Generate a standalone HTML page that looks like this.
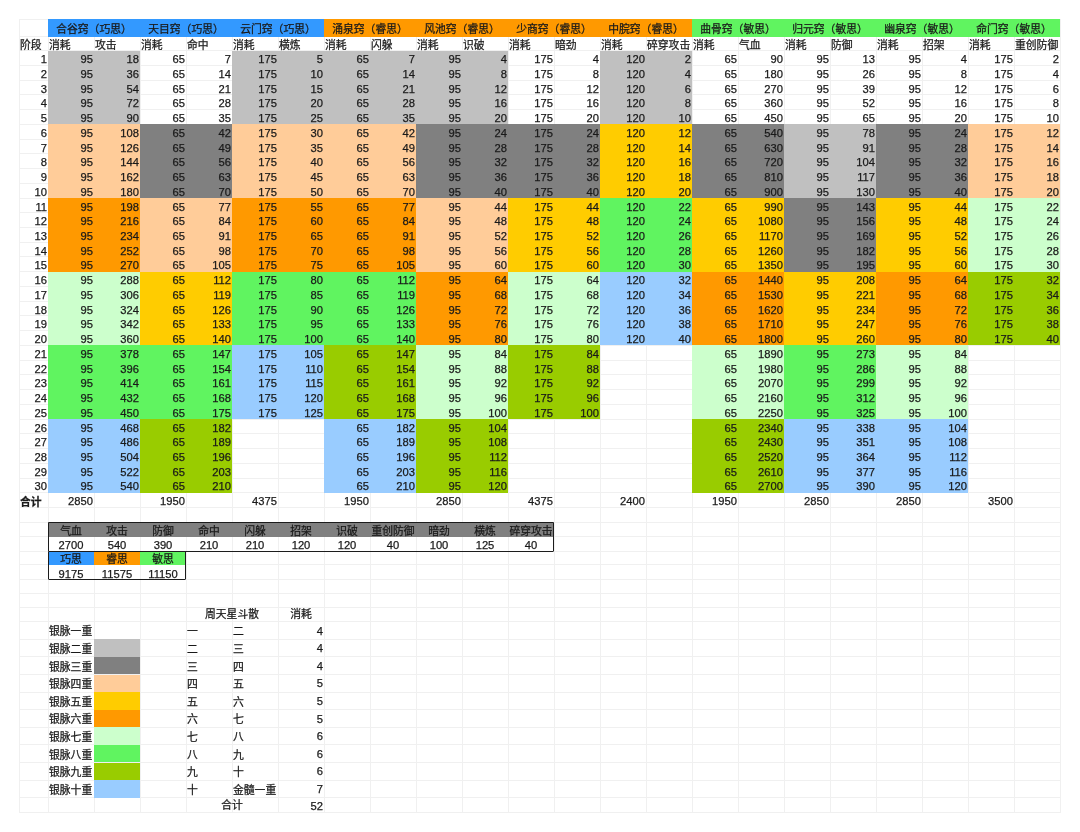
<!DOCTYPE html>
<html lang="zh-CN"><head><meta charset="utf-8"><title>银脉</title>
<style>
html,body{margin:0;padding:0;background:#fff;}
body{width:1080px;height:832px;position:relative;overflow:hidden;font-family:"Liberation Sans","Noto Sans CJK SC",sans-serif;font-size:10.8px;color:#1a1a1a;-webkit-text-stroke:0.25px #1a1a1a;}
div{position:absolute;box-sizing:border-box;white-space:nowrap;display:flex;align-items:center;line-height:1;}
.g{background:#f0f0f0;}
.r{justify-content:flex-end;padding-right:1px;font-size:11.2px;padding-top:3.4px;}
.n{font-size:11.2px;}
.l{justify-content:flex-start;padding-left:1px;padding-top:3.6px;}
.m{padding-top:2.5px;}
.m2{padding-top:1.4px;}
.hd{padding-top:2.4px;}
.c{justify-content:center;}
.b{font-weight:bold;}
.t4{letter-spacing:0px;}
.bd{border:1.5px solid #1c1c1c;border-radius:1px;}
</style></head><body>
<div class="g" style="left:19px;top:18.50px;width:1041px;height:1px"></div>
<div class="g" style="left:19px;top:36.30px;width:1041px;height:1px"></div>
<div class="g" style="left:19px;top:50.20px;width:1041px;height:1px"></div>
<div class="g" style="left:19px;top:64.94px;width:1041px;height:1px"></div>
<div class="g" style="left:19px;top:79.67px;width:1041px;height:1px"></div>
<div class="g" style="left:19px;top:94.41px;width:1041px;height:1px"></div>
<div class="g" style="left:19px;top:109.14px;width:1041px;height:1px"></div>
<div class="g" style="left:19px;top:123.88px;width:1041px;height:1px"></div>
<div class="g" style="left:19px;top:138.61px;width:1041px;height:1px"></div>
<div class="g" style="left:19px;top:153.34px;width:1041px;height:1px"></div>
<div class="g" style="left:19px;top:168.08px;width:1041px;height:1px"></div>
<div class="g" style="left:19px;top:182.81px;width:1041px;height:1px"></div>
<div class="g" style="left:19px;top:197.55px;width:1041px;height:1px"></div>
<div class="g" style="left:19px;top:212.28px;width:1041px;height:1px"></div>
<div class="g" style="left:19px;top:227.02px;width:1041px;height:1px"></div>
<div class="g" style="left:19px;top:241.75px;width:1041px;height:1px"></div>
<div class="g" style="left:19px;top:256.49px;width:1041px;height:1px"></div>
<div class="g" style="left:19px;top:271.22px;width:1041px;height:1px"></div>
<div class="g" style="left:19px;top:285.96px;width:1041px;height:1px"></div>
<div class="g" style="left:19px;top:300.69px;width:1041px;height:1px"></div>
<div class="g" style="left:19px;top:315.43px;width:1041px;height:1px"></div>
<div class="g" style="left:19px;top:330.16px;width:1041px;height:1px"></div>
<div class="g" style="left:19px;top:344.90px;width:1041px;height:1px"></div>
<div class="g" style="left:19px;top:359.63px;width:1041px;height:1px"></div>
<div class="g" style="left:19px;top:374.37px;width:1041px;height:1px"></div>
<div class="g" style="left:19px;top:389.10px;width:1041px;height:1px"></div>
<div class="g" style="left:19px;top:403.84px;width:1041px;height:1px"></div>
<div class="g" style="left:19px;top:418.57px;width:1041px;height:1px"></div>
<div class="g" style="left:19px;top:433.31px;width:1041px;height:1px"></div>
<div class="g" style="left:19px;top:448.04px;width:1041px;height:1px"></div>
<div class="g" style="left:19px;top:462.78px;width:1041px;height:1px"></div>
<div class="g" style="left:19px;top:477.51px;width:1041px;height:1px"></div>
<div class="g" style="left:19px;top:492.25px;width:1041px;height:1px"></div>
<div class="g" style="left:19px;top:506.98px;width:1041px;height:1px"></div>
<div class="g" style="left:19px;top:521.72px;width:1041px;height:1px"></div>
<div class="g" style="left:19px;top:536.10px;width:1041px;height:1px"></div>
<div class="g" style="left:19px;top:551.10px;width:1041px;height:1px"></div>
<div class="g" style="left:19px;top:564.10px;width:1041px;height:1px"></div>
<div class="g" style="left:19px;top:579.10px;width:1041px;height:1px"></div>
<div class="g" style="left:19px;top:592.80px;width:1041px;height:1px"></div>
<div class="g" style="left:19px;top:606.50px;width:1041px;height:1px"></div>
<div class="g" style="left:19px;top:621.20px;width:1041px;height:1px"></div>
<div class="g" style="left:19px;top:638.80px;width:1041px;height:1px"></div>
<div class="g" style="left:19px;top:656.40px;width:1041px;height:1px"></div>
<div class="g" style="left:19px;top:674.00px;width:1041px;height:1px"></div>
<div class="g" style="left:19px;top:691.60px;width:1041px;height:1px"></div>
<div class="g" style="left:19px;top:709.20px;width:1041px;height:1px"></div>
<div class="g" style="left:19px;top:726.80px;width:1041px;height:1px"></div>
<div class="g" style="left:19px;top:744.40px;width:1041px;height:1px"></div>
<div class="g" style="left:19px;top:762.00px;width:1041px;height:1px"></div>
<div class="g" style="left:19px;top:779.60px;width:1041px;height:1px"></div>
<div class="g" style="left:19px;top:797.20px;width:1041px;height:1px"></div>
<div class="g" style="left:19px;top:812.20px;width:1041px;height:1px"></div>
<div class="g" style="left:47.50px;top:19px;width:1px;height:793.70px"></div>
<div class="g" style="left:93.50px;top:19px;width:1px;height:793.70px"></div>
<div class="g" style="left:139.50px;top:19px;width:1px;height:793.70px"></div>
<div class="g" style="left:185.50px;top:19px;width:1px;height:793.70px"></div>
<div class="g" style="left:231.50px;top:19px;width:1px;height:793.70px"></div>
<div class="g" style="left:277.50px;top:19px;width:1px;height:793.70px"></div>
<div class="g" style="left:323.50px;top:19px;width:1px;height:793.70px"></div>
<div class="g" style="left:369.50px;top:19px;width:1px;height:793.70px"></div>
<div class="g" style="left:415.50px;top:19px;width:1px;height:793.70px"></div>
<div class="g" style="left:461.50px;top:19px;width:1px;height:793.70px"></div>
<div class="g" style="left:507.50px;top:19px;width:1px;height:793.70px"></div>
<div class="g" style="left:553.50px;top:19px;width:1px;height:793.70px"></div>
<div class="g" style="left:599.50px;top:19px;width:1px;height:793.70px"></div>
<div class="g" style="left:645.50px;top:19px;width:1px;height:793.70px"></div>
<div class="g" style="left:691.50px;top:19px;width:1px;height:793.70px"></div>
<div class="g" style="left:737.50px;top:19px;width:1px;height:793.70px"></div>
<div class="g" style="left:783.50px;top:19px;width:1px;height:793.70px"></div>
<div class="g" style="left:829.50px;top:19px;width:1px;height:793.70px"></div>
<div class="g" style="left:875.50px;top:19px;width:1px;height:793.70px"></div>
<div class="g" style="left:921.50px;top:19px;width:1px;height:793.70px"></div>
<div class="g" style="left:967.50px;top:19px;width:1px;height:793.70px"></div>
<div class="g" style="left:1013.50px;top:19px;width:1px;height:793.70px"></div>
<div class="g" style="left:1059.50px;top:19px;width:1px;height:793.70px"></div>
<div class="g" style="left:18.50px;top:19px;width:1px;height:793.70px"></div>
<div class="c hd" style="left:48.00px;top:19.00px;width:92.00px;height:17.80px;background:#3399ff;">合谷窍（巧思）</div>
<div class="l" style="left:48.00px;top:36.80px;width:46.00px;height:13.90px;">消耗</div>
<div class="l" style="left:94.00px;top:36.80px;width:46.00px;height:13.90px;">攻击</div>
<div style="left:48.00px;top:50.70px;width:92.00px;height:73.67px;background:#c0c0c0;"></div>
<div style="left:48.00px;top:124.38px;width:92.00px;height:73.67px;background:#ffcc99;"></div>
<div style="left:48.00px;top:198.05px;width:92.00px;height:73.67px;background:#ff9900;"></div>
<div style="left:48.00px;top:271.72px;width:92.00px;height:73.67px;background:#ccffcc;"></div>
<div style="left:48.00px;top:345.40px;width:92.00px;height:73.67px;background:#60f460;"></div>
<div style="left:48.00px;top:419.07px;width:92.00px;height:73.67px;background:#99ccff;"></div>
<div class="r" style="left:48.00px;top:50.70px;width:46.00px;height:14.73px;">95</div>
<div class="r" style="left:94.00px;top:50.70px;width:46.00px;height:14.73px;">18</div>
<div class="r" style="left:48.00px;top:65.44px;width:46.00px;height:14.73px;">95</div>
<div class="r" style="left:94.00px;top:65.44px;width:46.00px;height:14.73px;">36</div>
<div class="r" style="left:48.00px;top:80.17px;width:46.00px;height:14.73px;">95</div>
<div class="r" style="left:94.00px;top:80.17px;width:46.00px;height:14.73px;">54</div>
<div class="r" style="left:48.00px;top:94.91px;width:46.00px;height:14.73px;">95</div>
<div class="r" style="left:94.00px;top:94.91px;width:46.00px;height:14.73px;">72</div>
<div class="r" style="left:48.00px;top:109.64px;width:46.00px;height:14.73px;">95</div>
<div class="r" style="left:94.00px;top:109.64px;width:46.00px;height:14.73px;">90</div>
<div class="r" style="left:48.00px;top:124.38px;width:46.00px;height:14.73px;">95</div>
<div class="r" style="left:94.00px;top:124.38px;width:46.00px;height:14.73px;">108</div>
<div class="r" style="left:48.00px;top:139.11px;width:46.00px;height:14.73px;">95</div>
<div class="r" style="left:94.00px;top:139.11px;width:46.00px;height:14.73px;">126</div>
<div class="r" style="left:48.00px;top:153.84px;width:46.00px;height:14.73px;">95</div>
<div class="r" style="left:94.00px;top:153.84px;width:46.00px;height:14.73px;">144</div>
<div class="r" style="left:48.00px;top:168.58px;width:46.00px;height:14.73px;">95</div>
<div class="r" style="left:94.00px;top:168.58px;width:46.00px;height:14.73px;">162</div>
<div class="r" style="left:48.00px;top:183.31px;width:46.00px;height:14.73px;">95</div>
<div class="r" style="left:94.00px;top:183.31px;width:46.00px;height:14.73px;">180</div>
<div class="r" style="left:48.00px;top:198.05px;width:46.00px;height:14.73px;">95</div>
<div class="r" style="left:94.00px;top:198.05px;width:46.00px;height:14.73px;">198</div>
<div class="r" style="left:48.00px;top:212.78px;width:46.00px;height:14.73px;">95</div>
<div class="r" style="left:94.00px;top:212.78px;width:46.00px;height:14.73px;">216</div>
<div class="r" style="left:48.00px;top:227.52px;width:46.00px;height:14.73px;">95</div>
<div class="r" style="left:94.00px;top:227.52px;width:46.00px;height:14.73px;">234</div>
<div class="r" style="left:48.00px;top:242.25px;width:46.00px;height:14.73px;">95</div>
<div class="r" style="left:94.00px;top:242.25px;width:46.00px;height:14.73px;">252</div>
<div class="r" style="left:48.00px;top:256.99px;width:46.00px;height:14.73px;">95</div>
<div class="r" style="left:94.00px;top:256.99px;width:46.00px;height:14.73px;">270</div>
<div class="r" style="left:48.00px;top:271.72px;width:46.00px;height:14.73px;">95</div>
<div class="r" style="left:94.00px;top:271.72px;width:46.00px;height:14.73px;">288</div>
<div class="r" style="left:48.00px;top:286.46px;width:46.00px;height:14.73px;">95</div>
<div class="r" style="left:94.00px;top:286.46px;width:46.00px;height:14.73px;">306</div>
<div class="r" style="left:48.00px;top:301.19px;width:46.00px;height:14.73px;">95</div>
<div class="r" style="left:94.00px;top:301.19px;width:46.00px;height:14.73px;">324</div>
<div class="r" style="left:48.00px;top:315.93px;width:46.00px;height:14.73px;">95</div>
<div class="r" style="left:94.00px;top:315.93px;width:46.00px;height:14.73px;">342</div>
<div class="r" style="left:48.00px;top:330.66px;width:46.00px;height:14.73px;">95</div>
<div class="r" style="left:94.00px;top:330.66px;width:46.00px;height:14.73px;">360</div>
<div class="r" style="left:48.00px;top:345.40px;width:46.00px;height:14.73px;">95</div>
<div class="r" style="left:94.00px;top:345.40px;width:46.00px;height:14.73px;">378</div>
<div class="r" style="left:48.00px;top:360.13px;width:46.00px;height:14.73px;">95</div>
<div class="r" style="left:94.00px;top:360.13px;width:46.00px;height:14.73px;">396</div>
<div class="r" style="left:48.00px;top:374.87px;width:46.00px;height:14.73px;">95</div>
<div class="r" style="left:94.00px;top:374.87px;width:46.00px;height:14.73px;">414</div>
<div class="r" style="left:48.00px;top:389.60px;width:46.00px;height:14.73px;">95</div>
<div class="r" style="left:94.00px;top:389.60px;width:46.00px;height:14.73px;">432</div>
<div class="r" style="left:48.00px;top:404.34px;width:46.00px;height:14.73px;">95</div>
<div class="r" style="left:94.00px;top:404.34px;width:46.00px;height:14.73px;">450</div>
<div class="r" style="left:48.00px;top:419.07px;width:46.00px;height:14.73px;">95</div>
<div class="r" style="left:94.00px;top:419.07px;width:46.00px;height:14.73px;">468</div>
<div class="r" style="left:48.00px;top:433.81px;width:46.00px;height:14.73px;">95</div>
<div class="r" style="left:94.00px;top:433.81px;width:46.00px;height:14.73px;">486</div>
<div class="r" style="left:48.00px;top:448.54px;width:46.00px;height:14.73px;">95</div>
<div class="r" style="left:94.00px;top:448.54px;width:46.00px;height:14.73px;">504</div>
<div class="r" style="left:48.00px;top:463.28px;width:46.00px;height:14.73px;">95</div>
<div class="r" style="left:94.00px;top:463.28px;width:46.00px;height:14.73px;">522</div>
<div class="r" style="left:48.00px;top:478.01px;width:46.00px;height:14.73px;">95</div>
<div class="r" style="left:94.00px;top:478.01px;width:46.00px;height:14.73px;">540</div>
<div class="r" style="left:48.00px;top:492.75px;width:46.00px;height:14.73px;">2850</div>
<div class="c hd" style="left:140.00px;top:19.00px;width:92.00px;height:17.80px;background:#3399ff;">天目窍（巧思）</div>
<div class="l" style="left:140.00px;top:36.80px;width:46.00px;height:13.90px;">消耗</div>
<div class="l" style="left:186.00px;top:36.80px;width:46.00px;height:13.90px;">命中</div>
<div style="left:140.00px;top:124.38px;width:92.00px;height:73.67px;background:#808080;"></div>
<div style="left:140.00px;top:198.05px;width:92.00px;height:73.67px;background:#ffcc99;"></div>
<div style="left:140.00px;top:271.72px;width:92.00px;height:73.67px;background:#ffcc00;"></div>
<div style="left:140.00px;top:345.40px;width:92.00px;height:73.67px;background:#60f460;"></div>
<div style="left:140.00px;top:419.07px;width:92.00px;height:73.67px;background:#99cc00;"></div>
<div class="r" style="left:140.00px;top:50.70px;width:46.00px;height:14.73px;">65</div>
<div class="r" style="left:186.00px;top:50.70px;width:46.00px;height:14.73px;">7</div>
<div class="r" style="left:140.00px;top:65.44px;width:46.00px;height:14.73px;">65</div>
<div class="r" style="left:186.00px;top:65.44px;width:46.00px;height:14.73px;">14</div>
<div class="r" style="left:140.00px;top:80.17px;width:46.00px;height:14.73px;">65</div>
<div class="r" style="left:186.00px;top:80.17px;width:46.00px;height:14.73px;">21</div>
<div class="r" style="left:140.00px;top:94.91px;width:46.00px;height:14.73px;">65</div>
<div class="r" style="left:186.00px;top:94.91px;width:46.00px;height:14.73px;">28</div>
<div class="r" style="left:140.00px;top:109.64px;width:46.00px;height:14.73px;">65</div>
<div class="r" style="left:186.00px;top:109.64px;width:46.00px;height:14.73px;">35</div>
<div class="r" style="left:140.00px;top:124.38px;width:46.00px;height:14.73px;">65</div>
<div class="r" style="left:186.00px;top:124.38px;width:46.00px;height:14.73px;">42</div>
<div class="r" style="left:140.00px;top:139.11px;width:46.00px;height:14.73px;">65</div>
<div class="r" style="left:186.00px;top:139.11px;width:46.00px;height:14.73px;">49</div>
<div class="r" style="left:140.00px;top:153.84px;width:46.00px;height:14.73px;">65</div>
<div class="r" style="left:186.00px;top:153.84px;width:46.00px;height:14.73px;">56</div>
<div class="r" style="left:140.00px;top:168.58px;width:46.00px;height:14.73px;">65</div>
<div class="r" style="left:186.00px;top:168.58px;width:46.00px;height:14.73px;">63</div>
<div class="r" style="left:140.00px;top:183.31px;width:46.00px;height:14.73px;">65</div>
<div class="r" style="left:186.00px;top:183.31px;width:46.00px;height:14.73px;">70</div>
<div class="r" style="left:140.00px;top:198.05px;width:46.00px;height:14.73px;">65</div>
<div class="r" style="left:186.00px;top:198.05px;width:46.00px;height:14.73px;">77</div>
<div class="r" style="left:140.00px;top:212.78px;width:46.00px;height:14.73px;">65</div>
<div class="r" style="left:186.00px;top:212.78px;width:46.00px;height:14.73px;">84</div>
<div class="r" style="left:140.00px;top:227.52px;width:46.00px;height:14.73px;">65</div>
<div class="r" style="left:186.00px;top:227.52px;width:46.00px;height:14.73px;">91</div>
<div class="r" style="left:140.00px;top:242.25px;width:46.00px;height:14.73px;">65</div>
<div class="r" style="left:186.00px;top:242.25px;width:46.00px;height:14.73px;">98</div>
<div class="r" style="left:140.00px;top:256.99px;width:46.00px;height:14.73px;">65</div>
<div class="r" style="left:186.00px;top:256.99px;width:46.00px;height:14.73px;">105</div>
<div class="r" style="left:140.00px;top:271.72px;width:46.00px;height:14.73px;">65</div>
<div class="r" style="left:186.00px;top:271.72px;width:46.00px;height:14.73px;">112</div>
<div class="r" style="left:140.00px;top:286.46px;width:46.00px;height:14.73px;">65</div>
<div class="r" style="left:186.00px;top:286.46px;width:46.00px;height:14.73px;">119</div>
<div class="r" style="left:140.00px;top:301.19px;width:46.00px;height:14.73px;">65</div>
<div class="r" style="left:186.00px;top:301.19px;width:46.00px;height:14.73px;">126</div>
<div class="r" style="left:140.00px;top:315.93px;width:46.00px;height:14.73px;">65</div>
<div class="r" style="left:186.00px;top:315.93px;width:46.00px;height:14.73px;">133</div>
<div class="r" style="left:140.00px;top:330.66px;width:46.00px;height:14.73px;">65</div>
<div class="r" style="left:186.00px;top:330.66px;width:46.00px;height:14.73px;">140</div>
<div class="r" style="left:140.00px;top:345.40px;width:46.00px;height:14.73px;">65</div>
<div class="r" style="left:186.00px;top:345.40px;width:46.00px;height:14.73px;">147</div>
<div class="r" style="left:140.00px;top:360.13px;width:46.00px;height:14.73px;">65</div>
<div class="r" style="left:186.00px;top:360.13px;width:46.00px;height:14.73px;">154</div>
<div class="r" style="left:140.00px;top:374.87px;width:46.00px;height:14.73px;">65</div>
<div class="r" style="left:186.00px;top:374.87px;width:46.00px;height:14.73px;">161</div>
<div class="r" style="left:140.00px;top:389.60px;width:46.00px;height:14.73px;">65</div>
<div class="r" style="left:186.00px;top:389.60px;width:46.00px;height:14.73px;">168</div>
<div class="r" style="left:140.00px;top:404.34px;width:46.00px;height:14.73px;">65</div>
<div class="r" style="left:186.00px;top:404.34px;width:46.00px;height:14.73px;">175</div>
<div class="r" style="left:140.00px;top:419.07px;width:46.00px;height:14.73px;">65</div>
<div class="r" style="left:186.00px;top:419.07px;width:46.00px;height:14.73px;">182</div>
<div class="r" style="left:140.00px;top:433.81px;width:46.00px;height:14.73px;">65</div>
<div class="r" style="left:186.00px;top:433.81px;width:46.00px;height:14.73px;">189</div>
<div class="r" style="left:140.00px;top:448.54px;width:46.00px;height:14.73px;">65</div>
<div class="r" style="left:186.00px;top:448.54px;width:46.00px;height:14.73px;">196</div>
<div class="r" style="left:140.00px;top:463.28px;width:46.00px;height:14.73px;">65</div>
<div class="r" style="left:186.00px;top:463.28px;width:46.00px;height:14.73px;">203</div>
<div class="r" style="left:140.00px;top:478.01px;width:46.00px;height:14.73px;">65</div>
<div class="r" style="left:186.00px;top:478.01px;width:46.00px;height:14.73px;">210</div>
<div class="r" style="left:140.00px;top:492.75px;width:46.00px;height:14.73px;">1950</div>
<div class="c hd" style="left:232.00px;top:19.00px;width:92.00px;height:17.80px;background:#3399ff;">云门窍（巧思）</div>
<div class="l" style="left:232.00px;top:36.80px;width:46.00px;height:13.90px;">消耗</div>
<div class="l" style="left:278.00px;top:36.80px;width:46.00px;height:13.90px;">横炼</div>
<div style="left:232.00px;top:50.70px;width:92.00px;height:73.67px;background:#c0c0c0;"></div>
<div style="left:232.00px;top:124.38px;width:92.00px;height:73.67px;background:#ffcc99;"></div>
<div style="left:232.00px;top:198.05px;width:92.00px;height:73.67px;background:#ff9900;"></div>
<div style="left:232.00px;top:271.72px;width:92.00px;height:73.67px;background:#60f460;"></div>
<div style="left:232.00px;top:345.40px;width:92.00px;height:73.67px;background:#99ccff;"></div>
<div class="r" style="left:232.00px;top:50.70px;width:46.00px;height:14.73px;">175</div>
<div class="r" style="left:278.00px;top:50.70px;width:46.00px;height:14.73px;">5</div>
<div class="r" style="left:232.00px;top:65.44px;width:46.00px;height:14.73px;">175</div>
<div class="r" style="left:278.00px;top:65.44px;width:46.00px;height:14.73px;">10</div>
<div class="r" style="left:232.00px;top:80.17px;width:46.00px;height:14.73px;">175</div>
<div class="r" style="left:278.00px;top:80.17px;width:46.00px;height:14.73px;">15</div>
<div class="r" style="left:232.00px;top:94.91px;width:46.00px;height:14.73px;">175</div>
<div class="r" style="left:278.00px;top:94.91px;width:46.00px;height:14.73px;">20</div>
<div class="r" style="left:232.00px;top:109.64px;width:46.00px;height:14.73px;">175</div>
<div class="r" style="left:278.00px;top:109.64px;width:46.00px;height:14.73px;">25</div>
<div class="r" style="left:232.00px;top:124.38px;width:46.00px;height:14.73px;">175</div>
<div class="r" style="left:278.00px;top:124.38px;width:46.00px;height:14.73px;">30</div>
<div class="r" style="left:232.00px;top:139.11px;width:46.00px;height:14.73px;">175</div>
<div class="r" style="left:278.00px;top:139.11px;width:46.00px;height:14.73px;">35</div>
<div class="r" style="left:232.00px;top:153.84px;width:46.00px;height:14.73px;">175</div>
<div class="r" style="left:278.00px;top:153.84px;width:46.00px;height:14.73px;">40</div>
<div class="r" style="left:232.00px;top:168.58px;width:46.00px;height:14.73px;">175</div>
<div class="r" style="left:278.00px;top:168.58px;width:46.00px;height:14.73px;">45</div>
<div class="r" style="left:232.00px;top:183.31px;width:46.00px;height:14.73px;">175</div>
<div class="r" style="left:278.00px;top:183.31px;width:46.00px;height:14.73px;">50</div>
<div class="r" style="left:232.00px;top:198.05px;width:46.00px;height:14.73px;">175</div>
<div class="r" style="left:278.00px;top:198.05px;width:46.00px;height:14.73px;">55</div>
<div class="r" style="left:232.00px;top:212.78px;width:46.00px;height:14.73px;">175</div>
<div class="r" style="left:278.00px;top:212.78px;width:46.00px;height:14.73px;">60</div>
<div class="r" style="left:232.00px;top:227.52px;width:46.00px;height:14.73px;">175</div>
<div class="r" style="left:278.00px;top:227.52px;width:46.00px;height:14.73px;">65</div>
<div class="r" style="left:232.00px;top:242.25px;width:46.00px;height:14.73px;">175</div>
<div class="r" style="left:278.00px;top:242.25px;width:46.00px;height:14.73px;">70</div>
<div class="r" style="left:232.00px;top:256.99px;width:46.00px;height:14.73px;">175</div>
<div class="r" style="left:278.00px;top:256.99px;width:46.00px;height:14.73px;">75</div>
<div class="r" style="left:232.00px;top:271.72px;width:46.00px;height:14.73px;">175</div>
<div class="r" style="left:278.00px;top:271.72px;width:46.00px;height:14.73px;">80</div>
<div class="r" style="left:232.00px;top:286.46px;width:46.00px;height:14.73px;">175</div>
<div class="r" style="left:278.00px;top:286.46px;width:46.00px;height:14.73px;">85</div>
<div class="r" style="left:232.00px;top:301.19px;width:46.00px;height:14.73px;">175</div>
<div class="r" style="left:278.00px;top:301.19px;width:46.00px;height:14.73px;">90</div>
<div class="r" style="left:232.00px;top:315.93px;width:46.00px;height:14.73px;">175</div>
<div class="r" style="left:278.00px;top:315.93px;width:46.00px;height:14.73px;">95</div>
<div class="r" style="left:232.00px;top:330.66px;width:46.00px;height:14.73px;">175</div>
<div class="r" style="left:278.00px;top:330.66px;width:46.00px;height:14.73px;">100</div>
<div class="r" style="left:232.00px;top:345.40px;width:46.00px;height:14.73px;">175</div>
<div class="r" style="left:278.00px;top:345.40px;width:46.00px;height:14.73px;">105</div>
<div class="r" style="left:232.00px;top:360.13px;width:46.00px;height:14.73px;">175</div>
<div class="r" style="left:278.00px;top:360.13px;width:46.00px;height:14.73px;">110</div>
<div class="r" style="left:232.00px;top:374.87px;width:46.00px;height:14.73px;">175</div>
<div class="r" style="left:278.00px;top:374.87px;width:46.00px;height:14.73px;">115</div>
<div class="r" style="left:232.00px;top:389.60px;width:46.00px;height:14.73px;">175</div>
<div class="r" style="left:278.00px;top:389.60px;width:46.00px;height:14.73px;">120</div>
<div class="r" style="left:232.00px;top:404.34px;width:46.00px;height:14.73px;">175</div>
<div class="r" style="left:278.00px;top:404.34px;width:46.00px;height:14.73px;">125</div>
<div class="r" style="left:232.00px;top:492.75px;width:46.00px;height:14.73px;">4375</div>
<div class="c hd" style="left:324.00px;top:19.00px;width:92.00px;height:17.80px;background:#ff9900;">涌泉窍（睿思）</div>
<div class="l" style="left:324.00px;top:36.80px;width:46.00px;height:13.90px;">消耗</div>
<div class="l" style="left:370.00px;top:36.80px;width:46.00px;height:13.90px;">闪躲</div>
<div style="left:324.00px;top:50.70px;width:92.00px;height:73.67px;background:#c0c0c0;"></div>
<div style="left:324.00px;top:124.38px;width:92.00px;height:73.67px;background:#ffcc99;"></div>
<div style="left:324.00px;top:198.05px;width:92.00px;height:73.67px;background:#ff9900;"></div>
<div style="left:324.00px;top:271.72px;width:92.00px;height:73.67px;background:#60f460;"></div>
<div style="left:324.00px;top:345.40px;width:92.00px;height:73.67px;background:#99cc00;"></div>
<div style="left:324.00px;top:419.07px;width:92.00px;height:73.67px;background:#99ccff;"></div>
<div class="r" style="left:324.00px;top:50.70px;width:46.00px;height:14.73px;">65</div>
<div class="r" style="left:370.00px;top:50.70px;width:46.00px;height:14.73px;">7</div>
<div class="r" style="left:324.00px;top:65.44px;width:46.00px;height:14.73px;">65</div>
<div class="r" style="left:370.00px;top:65.44px;width:46.00px;height:14.73px;">14</div>
<div class="r" style="left:324.00px;top:80.17px;width:46.00px;height:14.73px;">65</div>
<div class="r" style="left:370.00px;top:80.17px;width:46.00px;height:14.73px;">21</div>
<div class="r" style="left:324.00px;top:94.91px;width:46.00px;height:14.73px;">65</div>
<div class="r" style="left:370.00px;top:94.91px;width:46.00px;height:14.73px;">28</div>
<div class="r" style="left:324.00px;top:109.64px;width:46.00px;height:14.73px;">65</div>
<div class="r" style="left:370.00px;top:109.64px;width:46.00px;height:14.73px;">35</div>
<div class="r" style="left:324.00px;top:124.38px;width:46.00px;height:14.73px;">65</div>
<div class="r" style="left:370.00px;top:124.38px;width:46.00px;height:14.73px;">42</div>
<div class="r" style="left:324.00px;top:139.11px;width:46.00px;height:14.73px;">65</div>
<div class="r" style="left:370.00px;top:139.11px;width:46.00px;height:14.73px;">49</div>
<div class="r" style="left:324.00px;top:153.84px;width:46.00px;height:14.73px;">65</div>
<div class="r" style="left:370.00px;top:153.84px;width:46.00px;height:14.73px;">56</div>
<div class="r" style="left:324.00px;top:168.58px;width:46.00px;height:14.73px;">65</div>
<div class="r" style="left:370.00px;top:168.58px;width:46.00px;height:14.73px;">63</div>
<div class="r" style="left:324.00px;top:183.31px;width:46.00px;height:14.73px;">65</div>
<div class="r" style="left:370.00px;top:183.31px;width:46.00px;height:14.73px;">70</div>
<div class="r" style="left:324.00px;top:198.05px;width:46.00px;height:14.73px;">65</div>
<div class="r" style="left:370.00px;top:198.05px;width:46.00px;height:14.73px;">77</div>
<div class="r" style="left:324.00px;top:212.78px;width:46.00px;height:14.73px;">65</div>
<div class="r" style="left:370.00px;top:212.78px;width:46.00px;height:14.73px;">84</div>
<div class="r" style="left:324.00px;top:227.52px;width:46.00px;height:14.73px;">65</div>
<div class="r" style="left:370.00px;top:227.52px;width:46.00px;height:14.73px;">91</div>
<div class="r" style="left:324.00px;top:242.25px;width:46.00px;height:14.73px;">65</div>
<div class="r" style="left:370.00px;top:242.25px;width:46.00px;height:14.73px;">98</div>
<div class="r" style="left:324.00px;top:256.99px;width:46.00px;height:14.73px;">65</div>
<div class="r" style="left:370.00px;top:256.99px;width:46.00px;height:14.73px;">105</div>
<div class="r" style="left:324.00px;top:271.72px;width:46.00px;height:14.73px;">65</div>
<div class="r" style="left:370.00px;top:271.72px;width:46.00px;height:14.73px;">112</div>
<div class="r" style="left:324.00px;top:286.46px;width:46.00px;height:14.73px;">65</div>
<div class="r" style="left:370.00px;top:286.46px;width:46.00px;height:14.73px;">119</div>
<div class="r" style="left:324.00px;top:301.19px;width:46.00px;height:14.73px;">65</div>
<div class="r" style="left:370.00px;top:301.19px;width:46.00px;height:14.73px;">126</div>
<div class="r" style="left:324.00px;top:315.93px;width:46.00px;height:14.73px;">65</div>
<div class="r" style="left:370.00px;top:315.93px;width:46.00px;height:14.73px;">133</div>
<div class="r" style="left:324.00px;top:330.66px;width:46.00px;height:14.73px;">65</div>
<div class="r" style="left:370.00px;top:330.66px;width:46.00px;height:14.73px;">140</div>
<div class="r" style="left:324.00px;top:345.40px;width:46.00px;height:14.73px;">65</div>
<div class="r" style="left:370.00px;top:345.40px;width:46.00px;height:14.73px;">147</div>
<div class="r" style="left:324.00px;top:360.13px;width:46.00px;height:14.73px;">65</div>
<div class="r" style="left:370.00px;top:360.13px;width:46.00px;height:14.73px;">154</div>
<div class="r" style="left:324.00px;top:374.87px;width:46.00px;height:14.73px;">65</div>
<div class="r" style="left:370.00px;top:374.87px;width:46.00px;height:14.73px;">161</div>
<div class="r" style="left:324.00px;top:389.60px;width:46.00px;height:14.73px;">65</div>
<div class="r" style="left:370.00px;top:389.60px;width:46.00px;height:14.73px;">168</div>
<div class="r" style="left:324.00px;top:404.34px;width:46.00px;height:14.73px;">65</div>
<div class="r" style="left:370.00px;top:404.34px;width:46.00px;height:14.73px;">175</div>
<div class="r" style="left:324.00px;top:419.07px;width:46.00px;height:14.73px;">65</div>
<div class="r" style="left:370.00px;top:419.07px;width:46.00px;height:14.73px;">182</div>
<div class="r" style="left:324.00px;top:433.81px;width:46.00px;height:14.73px;">65</div>
<div class="r" style="left:370.00px;top:433.81px;width:46.00px;height:14.73px;">189</div>
<div class="r" style="left:324.00px;top:448.54px;width:46.00px;height:14.73px;">65</div>
<div class="r" style="left:370.00px;top:448.54px;width:46.00px;height:14.73px;">196</div>
<div class="r" style="left:324.00px;top:463.28px;width:46.00px;height:14.73px;">65</div>
<div class="r" style="left:370.00px;top:463.28px;width:46.00px;height:14.73px;">203</div>
<div class="r" style="left:324.00px;top:478.01px;width:46.00px;height:14.73px;">65</div>
<div class="r" style="left:370.00px;top:478.01px;width:46.00px;height:14.73px;">210</div>
<div class="r" style="left:324.00px;top:492.75px;width:46.00px;height:14.73px;">1950</div>
<div class="c hd" style="left:416.00px;top:19.00px;width:92.00px;height:17.80px;background:#ff9900;">风池窍（睿思）</div>
<div class="l" style="left:416.00px;top:36.80px;width:46.00px;height:13.90px;">消耗</div>
<div class="l" style="left:462.00px;top:36.80px;width:46.00px;height:13.90px;">识破</div>
<div style="left:416.00px;top:50.70px;width:92.00px;height:73.67px;background:#c0c0c0;"></div>
<div style="left:416.00px;top:124.38px;width:92.00px;height:73.67px;background:#808080;"></div>
<div style="left:416.00px;top:198.05px;width:92.00px;height:73.67px;background:#ffcc99;"></div>
<div style="left:416.00px;top:271.72px;width:92.00px;height:73.67px;background:#ff9900;"></div>
<div style="left:416.00px;top:345.40px;width:92.00px;height:73.67px;background:#ccffcc;"></div>
<div style="left:416.00px;top:419.07px;width:92.00px;height:73.67px;background:#99cc00;"></div>
<div class="r" style="left:416.00px;top:50.70px;width:46.00px;height:14.73px;">95</div>
<div class="r" style="left:462.00px;top:50.70px;width:46.00px;height:14.73px;">4</div>
<div class="r" style="left:416.00px;top:65.44px;width:46.00px;height:14.73px;">95</div>
<div class="r" style="left:462.00px;top:65.44px;width:46.00px;height:14.73px;">8</div>
<div class="r" style="left:416.00px;top:80.17px;width:46.00px;height:14.73px;">95</div>
<div class="r" style="left:462.00px;top:80.17px;width:46.00px;height:14.73px;">12</div>
<div class="r" style="left:416.00px;top:94.91px;width:46.00px;height:14.73px;">95</div>
<div class="r" style="left:462.00px;top:94.91px;width:46.00px;height:14.73px;">16</div>
<div class="r" style="left:416.00px;top:109.64px;width:46.00px;height:14.73px;">95</div>
<div class="r" style="left:462.00px;top:109.64px;width:46.00px;height:14.73px;">20</div>
<div class="r" style="left:416.00px;top:124.38px;width:46.00px;height:14.73px;">95</div>
<div class="r" style="left:462.00px;top:124.38px;width:46.00px;height:14.73px;">24</div>
<div class="r" style="left:416.00px;top:139.11px;width:46.00px;height:14.73px;">95</div>
<div class="r" style="left:462.00px;top:139.11px;width:46.00px;height:14.73px;">28</div>
<div class="r" style="left:416.00px;top:153.84px;width:46.00px;height:14.73px;">95</div>
<div class="r" style="left:462.00px;top:153.84px;width:46.00px;height:14.73px;">32</div>
<div class="r" style="left:416.00px;top:168.58px;width:46.00px;height:14.73px;">95</div>
<div class="r" style="left:462.00px;top:168.58px;width:46.00px;height:14.73px;">36</div>
<div class="r" style="left:416.00px;top:183.31px;width:46.00px;height:14.73px;">95</div>
<div class="r" style="left:462.00px;top:183.31px;width:46.00px;height:14.73px;">40</div>
<div class="r" style="left:416.00px;top:198.05px;width:46.00px;height:14.73px;">95</div>
<div class="r" style="left:462.00px;top:198.05px;width:46.00px;height:14.73px;">44</div>
<div class="r" style="left:416.00px;top:212.78px;width:46.00px;height:14.73px;">95</div>
<div class="r" style="left:462.00px;top:212.78px;width:46.00px;height:14.73px;">48</div>
<div class="r" style="left:416.00px;top:227.52px;width:46.00px;height:14.73px;">95</div>
<div class="r" style="left:462.00px;top:227.52px;width:46.00px;height:14.73px;">52</div>
<div class="r" style="left:416.00px;top:242.25px;width:46.00px;height:14.73px;">95</div>
<div class="r" style="left:462.00px;top:242.25px;width:46.00px;height:14.73px;">56</div>
<div class="r" style="left:416.00px;top:256.99px;width:46.00px;height:14.73px;">95</div>
<div class="r" style="left:462.00px;top:256.99px;width:46.00px;height:14.73px;">60</div>
<div class="r" style="left:416.00px;top:271.72px;width:46.00px;height:14.73px;">95</div>
<div class="r" style="left:462.00px;top:271.72px;width:46.00px;height:14.73px;">64</div>
<div class="r" style="left:416.00px;top:286.46px;width:46.00px;height:14.73px;">95</div>
<div class="r" style="left:462.00px;top:286.46px;width:46.00px;height:14.73px;">68</div>
<div class="r" style="left:416.00px;top:301.19px;width:46.00px;height:14.73px;">95</div>
<div class="r" style="left:462.00px;top:301.19px;width:46.00px;height:14.73px;">72</div>
<div class="r" style="left:416.00px;top:315.93px;width:46.00px;height:14.73px;">95</div>
<div class="r" style="left:462.00px;top:315.93px;width:46.00px;height:14.73px;">76</div>
<div class="r" style="left:416.00px;top:330.66px;width:46.00px;height:14.73px;">95</div>
<div class="r" style="left:462.00px;top:330.66px;width:46.00px;height:14.73px;">80</div>
<div class="r" style="left:416.00px;top:345.40px;width:46.00px;height:14.73px;">95</div>
<div class="r" style="left:462.00px;top:345.40px;width:46.00px;height:14.73px;">84</div>
<div class="r" style="left:416.00px;top:360.13px;width:46.00px;height:14.73px;">95</div>
<div class="r" style="left:462.00px;top:360.13px;width:46.00px;height:14.73px;">88</div>
<div class="r" style="left:416.00px;top:374.87px;width:46.00px;height:14.73px;">95</div>
<div class="r" style="left:462.00px;top:374.87px;width:46.00px;height:14.73px;">92</div>
<div class="r" style="left:416.00px;top:389.60px;width:46.00px;height:14.73px;">95</div>
<div class="r" style="left:462.00px;top:389.60px;width:46.00px;height:14.73px;">96</div>
<div class="r" style="left:416.00px;top:404.34px;width:46.00px;height:14.73px;">95</div>
<div class="r" style="left:462.00px;top:404.34px;width:46.00px;height:14.73px;">100</div>
<div class="r" style="left:416.00px;top:419.07px;width:46.00px;height:14.73px;">95</div>
<div class="r" style="left:462.00px;top:419.07px;width:46.00px;height:14.73px;">104</div>
<div class="r" style="left:416.00px;top:433.81px;width:46.00px;height:14.73px;">95</div>
<div class="r" style="left:462.00px;top:433.81px;width:46.00px;height:14.73px;">108</div>
<div class="r" style="left:416.00px;top:448.54px;width:46.00px;height:14.73px;">95</div>
<div class="r" style="left:462.00px;top:448.54px;width:46.00px;height:14.73px;">112</div>
<div class="r" style="left:416.00px;top:463.28px;width:46.00px;height:14.73px;">95</div>
<div class="r" style="left:462.00px;top:463.28px;width:46.00px;height:14.73px;">116</div>
<div class="r" style="left:416.00px;top:478.01px;width:46.00px;height:14.73px;">95</div>
<div class="r" style="left:462.00px;top:478.01px;width:46.00px;height:14.73px;">120</div>
<div class="r" style="left:416.00px;top:492.75px;width:46.00px;height:14.73px;">2850</div>
<div class="c hd" style="left:508.00px;top:19.00px;width:92.00px;height:17.80px;background:#ff9900;">少商窍（睿思）</div>
<div class="l" style="left:508.00px;top:36.80px;width:46.00px;height:13.90px;">消耗</div>
<div class="l" style="left:554.00px;top:36.80px;width:46.00px;height:13.90px;">暗劲</div>
<div style="left:508.00px;top:124.38px;width:92.00px;height:73.67px;background:#808080;"></div>
<div style="left:508.00px;top:198.05px;width:92.00px;height:73.67px;background:#ffcc00;"></div>
<div style="left:508.00px;top:271.72px;width:92.00px;height:73.67px;background:#ccffcc;"></div>
<div style="left:508.00px;top:345.40px;width:92.00px;height:73.67px;background:#99cc00;"></div>
<div class="r" style="left:508.00px;top:50.70px;width:46.00px;height:14.73px;">175</div>
<div class="r" style="left:554.00px;top:50.70px;width:46.00px;height:14.73px;">4</div>
<div class="r" style="left:508.00px;top:65.44px;width:46.00px;height:14.73px;">175</div>
<div class="r" style="left:554.00px;top:65.44px;width:46.00px;height:14.73px;">8</div>
<div class="r" style="left:508.00px;top:80.17px;width:46.00px;height:14.73px;">175</div>
<div class="r" style="left:554.00px;top:80.17px;width:46.00px;height:14.73px;">12</div>
<div class="r" style="left:508.00px;top:94.91px;width:46.00px;height:14.73px;">175</div>
<div class="r" style="left:554.00px;top:94.91px;width:46.00px;height:14.73px;">16</div>
<div class="r" style="left:508.00px;top:109.64px;width:46.00px;height:14.73px;">175</div>
<div class="r" style="left:554.00px;top:109.64px;width:46.00px;height:14.73px;">20</div>
<div class="r" style="left:508.00px;top:124.38px;width:46.00px;height:14.73px;">175</div>
<div class="r" style="left:554.00px;top:124.38px;width:46.00px;height:14.73px;">24</div>
<div class="r" style="left:508.00px;top:139.11px;width:46.00px;height:14.73px;">175</div>
<div class="r" style="left:554.00px;top:139.11px;width:46.00px;height:14.73px;">28</div>
<div class="r" style="left:508.00px;top:153.84px;width:46.00px;height:14.73px;">175</div>
<div class="r" style="left:554.00px;top:153.84px;width:46.00px;height:14.73px;">32</div>
<div class="r" style="left:508.00px;top:168.58px;width:46.00px;height:14.73px;">175</div>
<div class="r" style="left:554.00px;top:168.58px;width:46.00px;height:14.73px;">36</div>
<div class="r" style="left:508.00px;top:183.31px;width:46.00px;height:14.73px;">175</div>
<div class="r" style="left:554.00px;top:183.31px;width:46.00px;height:14.73px;">40</div>
<div class="r" style="left:508.00px;top:198.05px;width:46.00px;height:14.73px;">175</div>
<div class="r" style="left:554.00px;top:198.05px;width:46.00px;height:14.73px;">44</div>
<div class="r" style="left:508.00px;top:212.78px;width:46.00px;height:14.73px;">175</div>
<div class="r" style="left:554.00px;top:212.78px;width:46.00px;height:14.73px;">48</div>
<div class="r" style="left:508.00px;top:227.52px;width:46.00px;height:14.73px;">175</div>
<div class="r" style="left:554.00px;top:227.52px;width:46.00px;height:14.73px;">52</div>
<div class="r" style="left:508.00px;top:242.25px;width:46.00px;height:14.73px;">175</div>
<div class="r" style="left:554.00px;top:242.25px;width:46.00px;height:14.73px;">56</div>
<div class="r" style="left:508.00px;top:256.99px;width:46.00px;height:14.73px;">175</div>
<div class="r" style="left:554.00px;top:256.99px;width:46.00px;height:14.73px;">60</div>
<div class="r" style="left:508.00px;top:271.72px;width:46.00px;height:14.73px;">175</div>
<div class="r" style="left:554.00px;top:271.72px;width:46.00px;height:14.73px;">64</div>
<div class="r" style="left:508.00px;top:286.46px;width:46.00px;height:14.73px;">175</div>
<div class="r" style="left:554.00px;top:286.46px;width:46.00px;height:14.73px;">68</div>
<div class="r" style="left:508.00px;top:301.19px;width:46.00px;height:14.73px;">175</div>
<div class="r" style="left:554.00px;top:301.19px;width:46.00px;height:14.73px;">72</div>
<div class="r" style="left:508.00px;top:315.93px;width:46.00px;height:14.73px;">175</div>
<div class="r" style="left:554.00px;top:315.93px;width:46.00px;height:14.73px;">76</div>
<div class="r" style="left:508.00px;top:330.66px;width:46.00px;height:14.73px;">175</div>
<div class="r" style="left:554.00px;top:330.66px;width:46.00px;height:14.73px;">80</div>
<div class="r" style="left:508.00px;top:345.40px;width:46.00px;height:14.73px;">175</div>
<div class="r" style="left:554.00px;top:345.40px;width:46.00px;height:14.73px;">84</div>
<div class="r" style="left:508.00px;top:360.13px;width:46.00px;height:14.73px;">175</div>
<div class="r" style="left:554.00px;top:360.13px;width:46.00px;height:14.73px;">88</div>
<div class="r" style="left:508.00px;top:374.87px;width:46.00px;height:14.73px;">175</div>
<div class="r" style="left:554.00px;top:374.87px;width:46.00px;height:14.73px;">92</div>
<div class="r" style="left:508.00px;top:389.60px;width:46.00px;height:14.73px;">175</div>
<div class="r" style="left:554.00px;top:389.60px;width:46.00px;height:14.73px;">96</div>
<div class="r" style="left:508.00px;top:404.34px;width:46.00px;height:14.73px;">175</div>
<div class="r" style="left:554.00px;top:404.34px;width:46.00px;height:14.73px;">100</div>
<div class="r" style="left:508.00px;top:492.75px;width:46.00px;height:14.73px;">4375</div>
<div class="c hd" style="left:600.00px;top:19.00px;width:92.00px;height:17.80px;background:#ff9900;">中脘窍（睿思）</div>
<div class="l" style="left:600.00px;top:36.80px;width:46.00px;height:13.90px;">消耗</div>
<div class="l t4" style="left:646.00px;top:36.80px;width:46.00px;height:13.90px;">碎穿攻击</div>
<div style="left:600.00px;top:50.70px;width:92.00px;height:73.67px;background:#c0c0c0;"></div>
<div style="left:600.00px;top:124.38px;width:92.00px;height:73.67px;background:#ffcc00;"></div>
<div style="left:600.00px;top:198.05px;width:92.00px;height:73.67px;background:#60f460;"></div>
<div style="left:600.00px;top:271.72px;width:92.00px;height:73.67px;background:#99ccff;"></div>
<div class="r" style="left:600.00px;top:50.70px;width:46.00px;height:14.73px;">120</div>
<div class="r" style="left:646.00px;top:50.70px;width:46.00px;height:14.73px;">2</div>
<div class="r" style="left:600.00px;top:65.44px;width:46.00px;height:14.73px;">120</div>
<div class="r" style="left:646.00px;top:65.44px;width:46.00px;height:14.73px;">4</div>
<div class="r" style="left:600.00px;top:80.17px;width:46.00px;height:14.73px;">120</div>
<div class="r" style="left:646.00px;top:80.17px;width:46.00px;height:14.73px;">6</div>
<div class="r" style="left:600.00px;top:94.91px;width:46.00px;height:14.73px;">120</div>
<div class="r" style="left:646.00px;top:94.91px;width:46.00px;height:14.73px;">8</div>
<div class="r" style="left:600.00px;top:109.64px;width:46.00px;height:14.73px;">120</div>
<div class="r" style="left:646.00px;top:109.64px;width:46.00px;height:14.73px;">10</div>
<div class="r" style="left:600.00px;top:124.38px;width:46.00px;height:14.73px;">120</div>
<div class="r" style="left:646.00px;top:124.38px;width:46.00px;height:14.73px;">12</div>
<div class="r" style="left:600.00px;top:139.11px;width:46.00px;height:14.73px;">120</div>
<div class="r" style="left:646.00px;top:139.11px;width:46.00px;height:14.73px;">14</div>
<div class="r" style="left:600.00px;top:153.84px;width:46.00px;height:14.73px;">120</div>
<div class="r" style="left:646.00px;top:153.84px;width:46.00px;height:14.73px;">16</div>
<div class="r" style="left:600.00px;top:168.58px;width:46.00px;height:14.73px;">120</div>
<div class="r" style="left:646.00px;top:168.58px;width:46.00px;height:14.73px;">18</div>
<div class="r" style="left:600.00px;top:183.31px;width:46.00px;height:14.73px;">120</div>
<div class="r" style="left:646.00px;top:183.31px;width:46.00px;height:14.73px;">20</div>
<div class="r" style="left:600.00px;top:198.05px;width:46.00px;height:14.73px;">120</div>
<div class="r" style="left:646.00px;top:198.05px;width:46.00px;height:14.73px;">22</div>
<div class="r" style="left:600.00px;top:212.78px;width:46.00px;height:14.73px;">120</div>
<div class="r" style="left:646.00px;top:212.78px;width:46.00px;height:14.73px;">24</div>
<div class="r" style="left:600.00px;top:227.52px;width:46.00px;height:14.73px;">120</div>
<div class="r" style="left:646.00px;top:227.52px;width:46.00px;height:14.73px;">26</div>
<div class="r" style="left:600.00px;top:242.25px;width:46.00px;height:14.73px;">120</div>
<div class="r" style="left:646.00px;top:242.25px;width:46.00px;height:14.73px;">28</div>
<div class="r" style="left:600.00px;top:256.99px;width:46.00px;height:14.73px;">120</div>
<div class="r" style="left:646.00px;top:256.99px;width:46.00px;height:14.73px;">30</div>
<div class="r" style="left:600.00px;top:271.72px;width:46.00px;height:14.73px;">120</div>
<div class="r" style="left:646.00px;top:271.72px;width:46.00px;height:14.73px;">32</div>
<div class="r" style="left:600.00px;top:286.46px;width:46.00px;height:14.73px;">120</div>
<div class="r" style="left:646.00px;top:286.46px;width:46.00px;height:14.73px;">34</div>
<div class="r" style="left:600.00px;top:301.19px;width:46.00px;height:14.73px;">120</div>
<div class="r" style="left:646.00px;top:301.19px;width:46.00px;height:14.73px;">36</div>
<div class="r" style="left:600.00px;top:315.93px;width:46.00px;height:14.73px;">120</div>
<div class="r" style="left:646.00px;top:315.93px;width:46.00px;height:14.73px;">38</div>
<div class="r" style="left:600.00px;top:330.66px;width:46.00px;height:14.73px;">120</div>
<div class="r" style="left:646.00px;top:330.66px;width:46.00px;height:14.73px;">40</div>
<div class="r" style="left:600.00px;top:492.75px;width:46.00px;height:14.73px;">2400</div>
<div class="c hd" style="left:692.00px;top:19.00px;width:92.00px;height:17.80px;background:#60f460;">曲骨窍（敏思）</div>
<div class="l" style="left:692.00px;top:36.80px;width:46.00px;height:13.90px;">消耗</div>
<div class="l" style="left:738.00px;top:36.80px;width:46.00px;height:13.90px;">气血</div>
<div style="left:692.00px;top:124.38px;width:92.00px;height:73.67px;background:#808080;"></div>
<div style="left:692.00px;top:198.05px;width:92.00px;height:73.67px;background:#ffcc00;"></div>
<div style="left:692.00px;top:271.72px;width:92.00px;height:73.67px;background:#ff9900;"></div>
<div style="left:692.00px;top:345.40px;width:92.00px;height:73.67px;background:#ccffcc;"></div>
<div style="left:692.00px;top:419.07px;width:92.00px;height:73.67px;background:#99cc00;"></div>
<div class="r" style="left:692.00px;top:50.70px;width:46.00px;height:14.73px;">65</div>
<div class="r" style="left:738.00px;top:50.70px;width:46.00px;height:14.73px;">90</div>
<div class="r" style="left:692.00px;top:65.44px;width:46.00px;height:14.73px;">65</div>
<div class="r" style="left:738.00px;top:65.44px;width:46.00px;height:14.73px;">180</div>
<div class="r" style="left:692.00px;top:80.17px;width:46.00px;height:14.73px;">65</div>
<div class="r" style="left:738.00px;top:80.17px;width:46.00px;height:14.73px;">270</div>
<div class="r" style="left:692.00px;top:94.91px;width:46.00px;height:14.73px;">65</div>
<div class="r" style="left:738.00px;top:94.91px;width:46.00px;height:14.73px;">360</div>
<div class="r" style="left:692.00px;top:109.64px;width:46.00px;height:14.73px;">65</div>
<div class="r" style="left:738.00px;top:109.64px;width:46.00px;height:14.73px;">450</div>
<div class="r" style="left:692.00px;top:124.38px;width:46.00px;height:14.73px;">65</div>
<div class="r" style="left:738.00px;top:124.38px;width:46.00px;height:14.73px;">540</div>
<div class="r" style="left:692.00px;top:139.11px;width:46.00px;height:14.73px;">65</div>
<div class="r" style="left:738.00px;top:139.11px;width:46.00px;height:14.73px;">630</div>
<div class="r" style="left:692.00px;top:153.84px;width:46.00px;height:14.73px;">65</div>
<div class="r" style="left:738.00px;top:153.84px;width:46.00px;height:14.73px;">720</div>
<div class="r" style="left:692.00px;top:168.58px;width:46.00px;height:14.73px;">65</div>
<div class="r" style="left:738.00px;top:168.58px;width:46.00px;height:14.73px;">810</div>
<div class="r" style="left:692.00px;top:183.31px;width:46.00px;height:14.73px;">65</div>
<div class="r" style="left:738.00px;top:183.31px;width:46.00px;height:14.73px;">900</div>
<div class="r" style="left:692.00px;top:198.05px;width:46.00px;height:14.73px;">65</div>
<div class="r" style="left:738.00px;top:198.05px;width:46.00px;height:14.73px;">990</div>
<div class="r" style="left:692.00px;top:212.78px;width:46.00px;height:14.73px;">65</div>
<div class="r" style="left:738.00px;top:212.78px;width:46.00px;height:14.73px;">1080</div>
<div class="r" style="left:692.00px;top:227.52px;width:46.00px;height:14.73px;">65</div>
<div class="r" style="left:738.00px;top:227.52px;width:46.00px;height:14.73px;">1170</div>
<div class="r" style="left:692.00px;top:242.25px;width:46.00px;height:14.73px;">65</div>
<div class="r" style="left:738.00px;top:242.25px;width:46.00px;height:14.73px;">1260</div>
<div class="r" style="left:692.00px;top:256.99px;width:46.00px;height:14.73px;">65</div>
<div class="r" style="left:738.00px;top:256.99px;width:46.00px;height:14.73px;">1350</div>
<div class="r" style="left:692.00px;top:271.72px;width:46.00px;height:14.73px;">65</div>
<div class="r" style="left:738.00px;top:271.72px;width:46.00px;height:14.73px;">1440</div>
<div class="r" style="left:692.00px;top:286.46px;width:46.00px;height:14.73px;">65</div>
<div class="r" style="left:738.00px;top:286.46px;width:46.00px;height:14.73px;">1530</div>
<div class="r" style="left:692.00px;top:301.19px;width:46.00px;height:14.73px;">65</div>
<div class="r" style="left:738.00px;top:301.19px;width:46.00px;height:14.73px;">1620</div>
<div class="r" style="left:692.00px;top:315.93px;width:46.00px;height:14.73px;">65</div>
<div class="r" style="left:738.00px;top:315.93px;width:46.00px;height:14.73px;">1710</div>
<div class="r" style="left:692.00px;top:330.66px;width:46.00px;height:14.73px;">65</div>
<div class="r" style="left:738.00px;top:330.66px;width:46.00px;height:14.73px;">1800</div>
<div class="r" style="left:692.00px;top:345.40px;width:46.00px;height:14.73px;">65</div>
<div class="r" style="left:738.00px;top:345.40px;width:46.00px;height:14.73px;">1890</div>
<div class="r" style="left:692.00px;top:360.13px;width:46.00px;height:14.73px;">65</div>
<div class="r" style="left:738.00px;top:360.13px;width:46.00px;height:14.73px;">1980</div>
<div class="r" style="left:692.00px;top:374.87px;width:46.00px;height:14.73px;">65</div>
<div class="r" style="left:738.00px;top:374.87px;width:46.00px;height:14.73px;">2070</div>
<div class="r" style="left:692.00px;top:389.60px;width:46.00px;height:14.73px;">65</div>
<div class="r" style="left:738.00px;top:389.60px;width:46.00px;height:14.73px;">2160</div>
<div class="r" style="left:692.00px;top:404.34px;width:46.00px;height:14.73px;">65</div>
<div class="r" style="left:738.00px;top:404.34px;width:46.00px;height:14.73px;">2250</div>
<div class="r" style="left:692.00px;top:419.07px;width:46.00px;height:14.73px;">65</div>
<div class="r" style="left:738.00px;top:419.07px;width:46.00px;height:14.73px;">2340</div>
<div class="r" style="left:692.00px;top:433.81px;width:46.00px;height:14.73px;">65</div>
<div class="r" style="left:738.00px;top:433.81px;width:46.00px;height:14.73px;">2430</div>
<div class="r" style="left:692.00px;top:448.54px;width:46.00px;height:14.73px;">65</div>
<div class="r" style="left:738.00px;top:448.54px;width:46.00px;height:14.73px;">2520</div>
<div class="r" style="left:692.00px;top:463.28px;width:46.00px;height:14.73px;">65</div>
<div class="r" style="left:738.00px;top:463.28px;width:46.00px;height:14.73px;">2610</div>
<div class="r" style="left:692.00px;top:478.01px;width:46.00px;height:14.73px;">65</div>
<div class="r" style="left:738.00px;top:478.01px;width:46.00px;height:14.73px;">2700</div>
<div class="r" style="left:692.00px;top:492.75px;width:46.00px;height:14.73px;">1950</div>
<div class="c hd" style="left:784.00px;top:19.00px;width:92.00px;height:17.80px;background:#60f460;">归元窍（敏思）</div>
<div class="l" style="left:784.00px;top:36.80px;width:46.00px;height:13.90px;">消耗</div>
<div class="l" style="left:830.00px;top:36.80px;width:46.00px;height:13.90px;">防御</div>
<div style="left:784.00px;top:124.38px;width:92.00px;height:73.67px;background:#c0c0c0;"></div>
<div style="left:784.00px;top:198.05px;width:92.00px;height:73.67px;background:#808080;"></div>
<div style="left:784.00px;top:271.72px;width:92.00px;height:73.67px;background:#ffcc00;"></div>
<div style="left:784.00px;top:345.40px;width:92.00px;height:73.67px;background:#60f460;"></div>
<div style="left:784.00px;top:419.07px;width:92.00px;height:73.67px;background:#99ccff;"></div>
<div class="r" style="left:784.00px;top:50.70px;width:46.00px;height:14.73px;">95</div>
<div class="r" style="left:830.00px;top:50.70px;width:46.00px;height:14.73px;">13</div>
<div class="r" style="left:784.00px;top:65.44px;width:46.00px;height:14.73px;">95</div>
<div class="r" style="left:830.00px;top:65.44px;width:46.00px;height:14.73px;">26</div>
<div class="r" style="left:784.00px;top:80.17px;width:46.00px;height:14.73px;">95</div>
<div class="r" style="left:830.00px;top:80.17px;width:46.00px;height:14.73px;">39</div>
<div class="r" style="left:784.00px;top:94.91px;width:46.00px;height:14.73px;">95</div>
<div class="r" style="left:830.00px;top:94.91px;width:46.00px;height:14.73px;">52</div>
<div class="r" style="left:784.00px;top:109.64px;width:46.00px;height:14.73px;">95</div>
<div class="r" style="left:830.00px;top:109.64px;width:46.00px;height:14.73px;">65</div>
<div class="r" style="left:784.00px;top:124.38px;width:46.00px;height:14.73px;">95</div>
<div class="r" style="left:830.00px;top:124.38px;width:46.00px;height:14.73px;">78</div>
<div class="r" style="left:784.00px;top:139.11px;width:46.00px;height:14.73px;">95</div>
<div class="r" style="left:830.00px;top:139.11px;width:46.00px;height:14.73px;">91</div>
<div class="r" style="left:784.00px;top:153.84px;width:46.00px;height:14.73px;">95</div>
<div class="r" style="left:830.00px;top:153.84px;width:46.00px;height:14.73px;">104</div>
<div class="r" style="left:784.00px;top:168.58px;width:46.00px;height:14.73px;">95</div>
<div class="r" style="left:830.00px;top:168.58px;width:46.00px;height:14.73px;">117</div>
<div class="r" style="left:784.00px;top:183.31px;width:46.00px;height:14.73px;">95</div>
<div class="r" style="left:830.00px;top:183.31px;width:46.00px;height:14.73px;">130</div>
<div class="r" style="left:784.00px;top:198.05px;width:46.00px;height:14.73px;">95</div>
<div class="r" style="left:830.00px;top:198.05px;width:46.00px;height:14.73px;">143</div>
<div class="r" style="left:784.00px;top:212.78px;width:46.00px;height:14.73px;">95</div>
<div class="r" style="left:830.00px;top:212.78px;width:46.00px;height:14.73px;">156</div>
<div class="r" style="left:784.00px;top:227.52px;width:46.00px;height:14.73px;">95</div>
<div class="r" style="left:830.00px;top:227.52px;width:46.00px;height:14.73px;">169</div>
<div class="r" style="left:784.00px;top:242.25px;width:46.00px;height:14.73px;">95</div>
<div class="r" style="left:830.00px;top:242.25px;width:46.00px;height:14.73px;">182</div>
<div class="r" style="left:784.00px;top:256.99px;width:46.00px;height:14.73px;">95</div>
<div class="r" style="left:830.00px;top:256.99px;width:46.00px;height:14.73px;">195</div>
<div class="r" style="left:784.00px;top:271.72px;width:46.00px;height:14.73px;">95</div>
<div class="r" style="left:830.00px;top:271.72px;width:46.00px;height:14.73px;">208</div>
<div class="r" style="left:784.00px;top:286.46px;width:46.00px;height:14.73px;">95</div>
<div class="r" style="left:830.00px;top:286.46px;width:46.00px;height:14.73px;">221</div>
<div class="r" style="left:784.00px;top:301.19px;width:46.00px;height:14.73px;">95</div>
<div class="r" style="left:830.00px;top:301.19px;width:46.00px;height:14.73px;">234</div>
<div class="r" style="left:784.00px;top:315.93px;width:46.00px;height:14.73px;">95</div>
<div class="r" style="left:830.00px;top:315.93px;width:46.00px;height:14.73px;">247</div>
<div class="r" style="left:784.00px;top:330.66px;width:46.00px;height:14.73px;">95</div>
<div class="r" style="left:830.00px;top:330.66px;width:46.00px;height:14.73px;">260</div>
<div class="r" style="left:784.00px;top:345.40px;width:46.00px;height:14.73px;">95</div>
<div class="r" style="left:830.00px;top:345.40px;width:46.00px;height:14.73px;">273</div>
<div class="r" style="left:784.00px;top:360.13px;width:46.00px;height:14.73px;">95</div>
<div class="r" style="left:830.00px;top:360.13px;width:46.00px;height:14.73px;">286</div>
<div class="r" style="left:784.00px;top:374.87px;width:46.00px;height:14.73px;">95</div>
<div class="r" style="left:830.00px;top:374.87px;width:46.00px;height:14.73px;">299</div>
<div class="r" style="left:784.00px;top:389.60px;width:46.00px;height:14.73px;">95</div>
<div class="r" style="left:830.00px;top:389.60px;width:46.00px;height:14.73px;">312</div>
<div class="r" style="left:784.00px;top:404.34px;width:46.00px;height:14.73px;">95</div>
<div class="r" style="left:830.00px;top:404.34px;width:46.00px;height:14.73px;">325</div>
<div class="r" style="left:784.00px;top:419.07px;width:46.00px;height:14.73px;">95</div>
<div class="r" style="left:830.00px;top:419.07px;width:46.00px;height:14.73px;">338</div>
<div class="r" style="left:784.00px;top:433.81px;width:46.00px;height:14.73px;">95</div>
<div class="r" style="left:830.00px;top:433.81px;width:46.00px;height:14.73px;">351</div>
<div class="r" style="left:784.00px;top:448.54px;width:46.00px;height:14.73px;">95</div>
<div class="r" style="left:830.00px;top:448.54px;width:46.00px;height:14.73px;">364</div>
<div class="r" style="left:784.00px;top:463.28px;width:46.00px;height:14.73px;">95</div>
<div class="r" style="left:830.00px;top:463.28px;width:46.00px;height:14.73px;">377</div>
<div class="r" style="left:784.00px;top:478.01px;width:46.00px;height:14.73px;">95</div>
<div class="r" style="left:830.00px;top:478.01px;width:46.00px;height:14.73px;">390</div>
<div class="r" style="left:784.00px;top:492.75px;width:46.00px;height:14.73px;">2850</div>
<div class="c hd" style="left:876.00px;top:19.00px;width:92.00px;height:17.80px;background:#60f460;">幽泉窍（敏思）</div>
<div class="l" style="left:876.00px;top:36.80px;width:46.00px;height:13.90px;">消耗</div>
<div class="l" style="left:922.00px;top:36.80px;width:46.00px;height:13.90px;">招架</div>
<div style="left:876.00px;top:124.38px;width:92.00px;height:73.67px;background:#808080;"></div>
<div style="left:876.00px;top:198.05px;width:92.00px;height:73.67px;background:#ffcc00;"></div>
<div style="left:876.00px;top:271.72px;width:92.00px;height:73.67px;background:#ff9900;"></div>
<div style="left:876.00px;top:345.40px;width:92.00px;height:73.67px;background:#ccffcc;"></div>
<div style="left:876.00px;top:419.07px;width:92.00px;height:73.67px;background:#99ccff;"></div>
<div class="r" style="left:876.00px;top:50.70px;width:46.00px;height:14.73px;">95</div>
<div class="r" style="left:922.00px;top:50.70px;width:46.00px;height:14.73px;">4</div>
<div class="r" style="left:876.00px;top:65.44px;width:46.00px;height:14.73px;">95</div>
<div class="r" style="left:922.00px;top:65.44px;width:46.00px;height:14.73px;">8</div>
<div class="r" style="left:876.00px;top:80.17px;width:46.00px;height:14.73px;">95</div>
<div class="r" style="left:922.00px;top:80.17px;width:46.00px;height:14.73px;">12</div>
<div class="r" style="left:876.00px;top:94.91px;width:46.00px;height:14.73px;">95</div>
<div class="r" style="left:922.00px;top:94.91px;width:46.00px;height:14.73px;">16</div>
<div class="r" style="left:876.00px;top:109.64px;width:46.00px;height:14.73px;">95</div>
<div class="r" style="left:922.00px;top:109.64px;width:46.00px;height:14.73px;">20</div>
<div class="r" style="left:876.00px;top:124.38px;width:46.00px;height:14.73px;">95</div>
<div class="r" style="left:922.00px;top:124.38px;width:46.00px;height:14.73px;">24</div>
<div class="r" style="left:876.00px;top:139.11px;width:46.00px;height:14.73px;">95</div>
<div class="r" style="left:922.00px;top:139.11px;width:46.00px;height:14.73px;">28</div>
<div class="r" style="left:876.00px;top:153.84px;width:46.00px;height:14.73px;">95</div>
<div class="r" style="left:922.00px;top:153.84px;width:46.00px;height:14.73px;">32</div>
<div class="r" style="left:876.00px;top:168.58px;width:46.00px;height:14.73px;">95</div>
<div class="r" style="left:922.00px;top:168.58px;width:46.00px;height:14.73px;">36</div>
<div class="r" style="left:876.00px;top:183.31px;width:46.00px;height:14.73px;">95</div>
<div class="r" style="left:922.00px;top:183.31px;width:46.00px;height:14.73px;">40</div>
<div class="r" style="left:876.00px;top:198.05px;width:46.00px;height:14.73px;">95</div>
<div class="r" style="left:922.00px;top:198.05px;width:46.00px;height:14.73px;">44</div>
<div class="r" style="left:876.00px;top:212.78px;width:46.00px;height:14.73px;">95</div>
<div class="r" style="left:922.00px;top:212.78px;width:46.00px;height:14.73px;">48</div>
<div class="r" style="left:876.00px;top:227.52px;width:46.00px;height:14.73px;">95</div>
<div class="r" style="left:922.00px;top:227.52px;width:46.00px;height:14.73px;">52</div>
<div class="r" style="left:876.00px;top:242.25px;width:46.00px;height:14.73px;">95</div>
<div class="r" style="left:922.00px;top:242.25px;width:46.00px;height:14.73px;">56</div>
<div class="r" style="left:876.00px;top:256.99px;width:46.00px;height:14.73px;">95</div>
<div class="r" style="left:922.00px;top:256.99px;width:46.00px;height:14.73px;">60</div>
<div class="r" style="left:876.00px;top:271.72px;width:46.00px;height:14.73px;">95</div>
<div class="r" style="left:922.00px;top:271.72px;width:46.00px;height:14.73px;">64</div>
<div class="r" style="left:876.00px;top:286.46px;width:46.00px;height:14.73px;">95</div>
<div class="r" style="left:922.00px;top:286.46px;width:46.00px;height:14.73px;">68</div>
<div class="r" style="left:876.00px;top:301.19px;width:46.00px;height:14.73px;">95</div>
<div class="r" style="left:922.00px;top:301.19px;width:46.00px;height:14.73px;">72</div>
<div class="r" style="left:876.00px;top:315.93px;width:46.00px;height:14.73px;">95</div>
<div class="r" style="left:922.00px;top:315.93px;width:46.00px;height:14.73px;">76</div>
<div class="r" style="left:876.00px;top:330.66px;width:46.00px;height:14.73px;">95</div>
<div class="r" style="left:922.00px;top:330.66px;width:46.00px;height:14.73px;">80</div>
<div class="r" style="left:876.00px;top:345.40px;width:46.00px;height:14.73px;">95</div>
<div class="r" style="left:922.00px;top:345.40px;width:46.00px;height:14.73px;">84</div>
<div class="r" style="left:876.00px;top:360.13px;width:46.00px;height:14.73px;">95</div>
<div class="r" style="left:922.00px;top:360.13px;width:46.00px;height:14.73px;">88</div>
<div class="r" style="left:876.00px;top:374.87px;width:46.00px;height:14.73px;">95</div>
<div class="r" style="left:922.00px;top:374.87px;width:46.00px;height:14.73px;">92</div>
<div class="r" style="left:876.00px;top:389.60px;width:46.00px;height:14.73px;">95</div>
<div class="r" style="left:922.00px;top:389.60px;width:46.00px;height:14.73px;">96</div>
<div class="r" style="left:876.00px;top:404.34px;width:46.00px;height:14.73px;">95</div>
<div class="r" style="left:922.00px;top:404.34px;width:46.00px;height:14.73px;">100</div>
<div class="r" style="left:876.00px;top:419.07px;width:46.00px;height:14.73px;">95</div>
<div class="r" style="left:922.00px;top:419.07px;width:46.00px;height:14.73px;">104</div>
<div class="r" style="left:876.00px;top:433.81px;width:46.00px;height:14.73px;">95</div>
<div class="r" style="left:922.00px;top:433.81px;width:46.00px;height:14.73px;">108</div>
<div class="r" style="left:876.00px;top:448.54px;width:46.00px;height:14.73px;">95</div>
<div class="r" style="left:922.00px;top:448.54px;width:46.00px;height:14.73px;">112</div>
<div class="r" style="left:876.00px;top:463.28px;width:46.00px;height:14.73px;">95</div>
<div class="r" style="left:922.00px;top:463.28px;width:46.00px;height:14.73px;">116</div>
<div class="r" style="left:876.00px;top:478.01px;width:46.00px;height:14.73px;">95</div>
<div class="r" style="left:922.00px;top:478.01px;width:46.00px;height:14.73px;">120</div>
<div class="r" style="left:876.00px;top:492.75px;width:46.00px;height:14.73px;">2850</div>
<div class="c hd" style="left:968.00px;top:19.00px;width:92.00px;height:17.80px;background:#60f460;">命门窍（敏思）</div>
<div class="l" style="left:968.00px;top:36.80px;width:46.00px;height:13.90px;">消耗</div>
<div class="l t4" style="left:1014.00px;top:36.80px;width:46.00px;height:13.90px;">重创防御</div>
<div style="left:968.00px;top:124.38px;width:92.00px;height:73.67px;background:#ffcc99;"></div>
<div style="left:968.00px;top:198.05px;width:92.00px;height:73.67px;background:#ccffcc;"></div>
<div style="left:968.00px;top:271.72px;width:92.00px;height:73.67px;background:#99cc00;"></div>
<div class="r" style="left:968.00px;top:50.70px;width:46.00px;height:14.73px;">175</div>
<div class="r" style="left:1014.00px;top:50.70px;width:46.00px;height:14.73px;">2</div>
<div class="r" style="left:968.00px;top:65.44px;width:46.00px;height:14.73px;">175</div>
<div class="r" style="left:1014.00px;top:65.44px;width:46.00px;height:14.73px;">4</div>
<div class="r" style="left:968.00px;top:80.17px;width:46.00px;height:14.73px;">175</div>
<div class="r" style="left:1014.00px;top:80.17px;width:46.00px;height:14.73px;">6</div>
<div class="r" style="left:968.00px;top:94.91px;width:46.00px;height:14.73px;">175</div>
<div class="r" style="left:1014.00px;top:94.91px;width:46.00px;height:14.73px;">8</div>
<div class="r" style="left:968.00px;top:109.64px;width:46.00px;height:14.73px;">175</div>
<div class="r" style="left:1014.00px;top:109.64px;width:46.00px;height:14.73px;">10</div>
<div class="r" style="left:968.00px;top:124.38px;width:46.00px;height:14.73px;">175</div>
<div class="r" style="left:1014.00px;top:124.38px;width:46.00px;height:14.73px;">12</div>
<div class="r" style="left:968.00px;top:139.11px;width:46.00px;height:14.73px;">175</div>
<div class="r" style="left:1014.00px;top:139.11px;width:46.00px;height:14.73px;">14</div>
<div class="r" style="left:968.00px;top:153.84px;width:46.00px;height:14.73px;">175</div>
<div class="r" style="left:1014.00px;top:153.84px;width:46.00px;height:14.73px;">16</div>
<div class="r" style="left:968.00px;top:168.58px;width:46.00px;height:14.73px;">175</div>
<div class="r" style="left:1014.00px;top:168.58px;width:46.00px;height:14.73px;">18</div>
<div class="r" style="left:968.00px;top:183.31px;width:46.00px;height:14.73px;">175</div>
<div class="r" style="left:1014.00px;top:183.31px;width:46.00px;height:14.73px;">20</div>
<div class="r" style="left:968.00px;top:198.05px;width:46.00px;height:14.73px;">175</div>
<div class="r" style="left:1014.00px;top:198.05px;width:46.00px;height:14.73px;">22</div>
<div class="r" style="left:968.00px;top:212.78px;width:46.00px;height:14.73px;">175</div>
<div class="r" style="left:1014.00px;top:212.78px;width:46.00px;height:14.73px;">24</div>
<div class="r" style="left:968.00px;top:227.52px;width:46.00px;height:14.73px;">175</div>
<div class="r" style="left:1014.00px;top:227.52px;width:46.00px;height:14.73px;">26</div>
<div class="r" style="left:968.00px;top:242.25px;width:46.00px;height:14.73px;">175</div>
<div class="r" style="left:1014.00px;top:242.25px;width:46.00px;height:14.73px;">28</div>
<div class="r" style="left:968.00px;top:256.99px;width:46.00px;height:14.73px;">175</div>
<div class="r" style="left:1014.00px;top:256.99px;width:46.00px;height:14.73px;">30</div>
<div class="r" style="left:968.00px;top:271.72px;width:46.00px;height:14.73px;">175</div>
<div class="r" style="left:1014.00px;top:271.72px;width:46.00px;height:14.73px;">32</div>
<div class="r" style="left:968.00px;top:286.46px;width:46.00px;height:14.73px;">175</div>
<div class="r" style="left:1014.00px;top:286.46px;width:46.00px;height:14.73px;">34</div>
<div class="r" style="left:968.00px;top:301.19px;width:46.00px;height:14.73px;">175</div>
<div class="r" style="left:1014.00px;top:301.19px;width:46.00px;height:14.73px;">36</div>
<div class="r" style="left:968.00px;top:315.93px;width:46.00px;height:14.73px;">175</div>
<div class="r" style="left:1014.00px;top:315.93px;width:46.00px;height:14.73px;">38</div>
<div class="r" style="left:968.00px;top:330.66px;width:46.00px;height:14.73px;">175</div>
<div class="r" style="left:1014.00px;top:330.66px;width:46.00px;height:14.73px;">40</div>
<div class="r" style="left:968.00px;top:492.75px;width:46.00px;height:14.73px;">3500</div>
<div class="l" style="left:19.00px;top:36.80px;width:29.00px;height:13.90px;">阶段</div>
<div class="r" style="left:19.00px;top:50.70px;width:29.00px;height:14.73px;">1</div>
<div class="r" style="left:19.00px;top:65.44px;width:29.00px;height:14.73px;">2</div>
<div class="r" style="left:19.00px;top:80.17px;width:29.00px;height:14.73px;">3</div>
<div class="r" style="left:19.00px;top:94.91px;width:29.00px;height:14.73px;">4</div>
<div class="r" style="left:19.00px;top:109.64px;width:29.00px;height:14.73px;">5</div>
<div class="r" style="left:19.00px;top:124.38px;width:29.00px;height:14.73px;">6</div>
<div class="r" style="left:19.00px;top:139.11px;width:29.00px;height:14.73px;">7</div>
<div class="r" style="left:19.00px;top:153.84px;width:29.00px;height:14.73px;">8</div>
<div class="r" style="left:19.00px;top:168.58px;width:29.00px;height:14.73px;">9</div>
<div class="r" style="left:19.00px;top:183.31px;width:29.00px;height:14.73px;">10</div>
<div class="r" style="left:19.00px;top:198.05px;width:29.00px;height:14.73px;">11</div>
<div class="r" style="left:19.00px;top:212.78px;width:29.00px;height:14.73px;">12</div>
<div class="r" style="left:19.00px;top:227.52px;width:29.00px;height:14.73px;">13</div>
<div class="r" style="left:19.00px;top:242.25px;width:29.00px;height:14.73px;">14</div>
<div class="r" style="left:19.00px;top:256.99px;width:29.00px;height:14.73px;">15</div>
<div class="r" style="left:19.00px;top:271.72px;width:29.00px;height:14.73px;">16</div>
<div class="r" style="left:19.00px;top:286.46px;width:29.00px;height:14.73px;">17</div>
<div class="r" style="left:19.00px;top:301.19px;width:29.00px;height:14.73px;">18</div>
<div class="r" style="left:19.00px;top:315.93px;width:29.00px;height:14.73px;">19</div>
<div class="r" style="left:19.00px;top:330.66px;width:29.00px;height:14.73px;">20</div>
<div class="r" style="left:19.00px;top:345.40px;width:29.00px;height:14.73px;">21</div>
<div class="r" style="left:19.00px;top:360.13px;width:29.00px;height:14.73px;">22</div>
<div class="r" style="left:19.00px;top:374.87px;width:29.00px;height:14.73px;">23</div>
<div class="r" style="left:19.00px;top:389.60px;width:29.00px;height:14.73px;">24</div>
<div class="r" style="left:19.00px;top:404.34px;width:29.00px;height:14.73px;">25</div>
<div class="r" style="left:19.00px;top:419.07px;width:29.00px;height:14.73px;">26</div>
<div class="r" style="left:19.00px;top:433.81px;width:29.00px;height:14.73px;">27</div>
<div class="r" style="left:19.00px;top:448.54px;width:29.00px;height:14.73px;">28</div>
<div class="r" style="left:19.00px;top:463.28px;width:29.00px;height:14.73px;">29</div>
<div class="r" style="left:19.00px;top:478.01px;width:29.00px;height:14.73px;">30</div>
<div class="l b" style="left:19.00px;top:492.75px;width:29.00px;height:14.73px;">合计</div>
<div style="left:48.00px;top:522.00px;width:506.00px;height:14.60px;background:#808080;"></div>
<div class="c" style="left:48.00px;top:523.70px;width:46.00px;height:14.60px;">气血</div>
<div class="c n" style="left:48.00px;top:538.60px;width:46.00px;height:15.00px;">2700</div>
<div class="c" style="left:94.00px;top:523.70px;width:46.00px;height:14.60px;">攻击</div>
<div class="c n" style="left:94.00px;top:538.60px;width:46.00px;height:15.00px;">540</div>
<div class="c" style="left:140.00px;top:523.70px;width:46.00px;height:14.60px;">防御</div>
<div class="c n" style="left:140.00px;top:538.60px;width:46.00px;height:15.00px;">390</div>
<div class="c" style="left:186.00px;top:523.70px;width:46.00px;height:14.60px;">命中</div>
<div class="c n" style="left:186.00px;top:538.60px;width:46.00px;height:15.00px;">210</div>
<div class="c" style="left:232.00px;top:523.70px;width:46.00px;height:14.60px;">闪躲</div>
<div class="c n" style="left:232.00px;top:538.60px;width:46.00px;height:15.00px;">210</div>
<div class="c" style="left:278.00px;top:523.70px;width:46.00px;height:14.60px;">招架</div>
<div class="c n" style="left:278.00px;top:538.60px;width:46.00px;height:15.00px;">120</div>
<div class="c" style="left:324.00px;top:523.70px;width:46.00px;height:14.60px;">识破</div>
<div class="c n" style="left:324.00px;top:538.60px;width:46.00px;height:15.00px;">120</div>
<div class="c" style="left:370.00px;top:523.70px;width:46.00px;height:14.60px;">重创防御</div>
<div class="c n" style="left:370.00px;top:538.60px;width:46.00px;height:15.00px;">40</div>
<div class="c" style="left:416.00px;top:523.70px;width:46.00px;height:14.60px;">暗劲</div>
<div class="c n" style="left:416.00px;top:538.60px;width:46.00px;height:15.00px;">100</div>
<div class="c" style="left:462.00px;top:523.70px;width:46.00px;height:14.60px;">横炼</div>
<div class="c n" style="left:462.00px;top:538.60px;width:46.00px;height:15.00px;">125</div>
<div class="c" style="left:508.00px;top:523.70px;width:46.00px;height:14.60px;">碎穿攻击</div>
<div class="c n" style="left:508.00px;top:538.60px;width:46.00px;height:15.00px;">40</div>
<div style="left:48.00px;top:551.60px;width:46.00px;height:13.00px;background:#3399ff;"></div>
<div class="c" style="left:48.00px;top:552.60px;width:46.00px;height:13.00px;">巧思</div>
<div class="c n" style="left:48.00px;top:566.50px;width:46.00px;height:15.40px;">9175</div>
<div style="left:94.00px;top:551.60px;width:46.00px;height:13.00px;background:#ff9900;"></div>
<div class="c" style="left:94.00px;top:552.60px;width:46.00px;height:13.00px;">睿思</div>
<div class="c n" style="left:94.00px;top:566.50px;width:46.00px;height:15.40px;">11575</div>
<div style="left:140.00px;top:551.60px;width:46.00px;height:13.00px;background:#60f460;"></div>
<div class="c" style="left:140.00px;top:552.60px;width:46.00px;height:13.00px;">敏思</div>
<div class="c n" style="left:140.00px;top:566.50px;width:46.00px;height:15.40px;">11150</div>
<div class="bd" style="left:47.70px;top:521.60px;width:506.80px;height:30.60px;"></div>
<div class="bd" style="left:47.70px;top:550.80px;width:138.80px;height:29.30px;"></div>
<div class="c" style="left:186.00px;top:607.00px;width:92.00px;height:14.70px;">周天星斗散</div>
<div class="c" style="left:278.00px;top:607.00px;width:46.00px;height:14.70px;">消耗</div>
<div class="l m" style="left:48.00px;top:621.70px;width:46.00px;height:17.60px;">银脉一重</div>
<div class="l m" style="left:186.00px;top:621.70px;width:46.00px;height:17.60px;">一</div>
<div class="l m" style="left:232.00px;top:621.70px;width:46.00px;height:17.60px;">二</div>
<div class="r m2" style="left:278.00px;top:621.70px;width:46.00px;height:17.60px;">4</div>
<div class="l m" style="left:48.00px;top:639.30px;width:46.00px;height:17.60px;">银脉二重</div>
<div style="left:94.00px;top:639.30px;width:46.00px;height:17.60px;background:#c0c0c0;"></div>
<div class="l m" style="left:186.00px;top:639.30px;width:46.00px;height:17.60px;">二</div>
<div class="l m" style="left:232.00px;top:639.30px;width:46.00px;height:17.60px;">三</div>
<div class="r m2" style="left:278.00px;top:639.30px;width:46.00px;height:17.60px;">4</div>
<div class="l m" style="left:48.00px;top:656.90px;width:46.00px;height:17.60px;">银脉三重</div>
<div style="left:94.00px;top:656.90px;width:46.00px;height:17.60px;background:#808080;"></div>
<div class="l m" style="left:186.00px;top:656.90px;width:46.00px;height:17.60px;">三</div>
<div class="l m" style="left:232.00px;top:656.90px;width:46.00px;height:17.60px;">四</div>
<div class="r m2" style="left:278.00px;top:656.90px;width:46.00px;height:17.60px;">4</div>
<div class="l m" style="left:48.00px;top:674.50px;width:46.00px;height:17.60px;">银脉四重</div>
<div style="left:94.00px;top:674.50px;width:46.00px;height:17.60px;background:#ffcc99;"></div>
<div class="l m" style="left:186.00px;top:674.50px;width:46.00px;height:17.60px;">四</div>
<div class="l m" style="left:232.00px;top:674.50px;width:46.00px;height:17.60px;">五</div>
<div class="r m2" style="left:278.00px;top:674.50px;width:46.00px;height:17.60px;">5</div>
<div class="l m" style="left:48.00px;top:692.10px;width:46.00px;height:17.60px;">银脉五重</div>
<div style="left:94.00px;top:692.10px;width:46.00px;height:17.60px;background:#ffcc00;"></div>
<div class="l m" style="left:186.00px;top:692.10px;width:46.00px;height:17.60px;">五</div>
<div class="l m" style="left:232.00px;top:692.10px;width:46.00px;height:17.60px;">六</div>
<div class="r m2" style="left:278.00px;top:692.10px;width:46.00px;height:17.60px;">5</div>
<div class="l m" style="left:48.00px;top:709.70px;width:46.00px;height:17.60px;">银脉六重</div>
<div style="left:94.00px;top:709.70px;width:46.00px;height:17.60px;background:#ff9900;"></div>
<div class="l m" style="left:186.00px;top:709.70px;width:46.00px;height:17.60px;">六</div>
<div class="l m" style="left:232.00px;top:709.70px;width:46.00px;height:17.60px;">七</div>
<div class="r m2" style="left:278.00px;top:709.70px;width:46.00px;height:17.60px;">5</div>
<div class="l m" style="left:48.00px;top:727.30px;width:46.00px;height:17.60px;">银脉七重</div>
<div style="left:94.00px;top:727.30px;width:46.00px;height:17.60px;background:#ccffcc;"></div>
<div class="l m" style="left:186.00px;top:727.30px;width:46.00px;height:17.60px;">七</div>
<div class="l m" style="left:232.00px;top:727.30px;width:46.00px;height:17.60px;">八</div>
<div class="r m2" style="left:278.00px;top:727.30px;width:46.00px;height:17.60px;">6</div>
<div class="l m" style="left:48.00px;top:744.90px;width:46.00px;height:17.60px;">银脉八重</div>
<div style="left:94.00px;top:744.90px;width:46.00px;height:17.60px;background:#60f460;"></div>
<div class="l m" style="left:186.00px;top:744.90px;width:46.00px;height:17.60px;">八</div>
<div class="l m" style="left:232.00px;top:744.90px;width:46.00px;height:17.60px;">九</div>
<div class="r m2" style="left:278.00px;top:744.90px;width:46.00px;height:17.60px;">6</div>
<div class="l m" style="left:48.00px;top:762.50px;width:46.00px;height:17.60px;">银脉九重</div>
<div style="left:94.00px;top:762.50px;width:46.00px;height:17.60px;background:#99cc00;"></div>
<div class="l m" style="left:186.00px;top:762.50px;width:46.00px;height:17.60px;">九</div>
<div class="l m" style="left:232.00px;top:762.50px;width:46.00px;height:17.60px;">十</div>
<div class="r m2" style="left:278.00px;top:762.50px;width:46.00px;height:17.60px;">6</div>
<div class="l m" style="left:48.00px;top:780.10px;width:46.00px;height:17.60px;">银脉十重</div>
<div style="left:94.00px;top:780.10px;width:46.00px;height:17.60px;background:#99ccff;"></div>
<div class="l m" style="left:186.00px;top:780.10px;width:46.00px;height:17.60px;">十</div>
<div class="l m" style="left:232.00px;top:780.10px;width:46.00px;height:17.60px;">金髓一重</div>
<div class="r m2" style="left:278.00px;top:780.10px;width:46.00px;height:17.60px;">7</div>
<div class="c" style="left:186.00px;top:797.70px;width:92.00px;height:15.00px;">合计</div>
<div class="r" style="left:278.00px;top:797.70px;width:46.00px;height:15.00px;">52</div>
</body></html>
